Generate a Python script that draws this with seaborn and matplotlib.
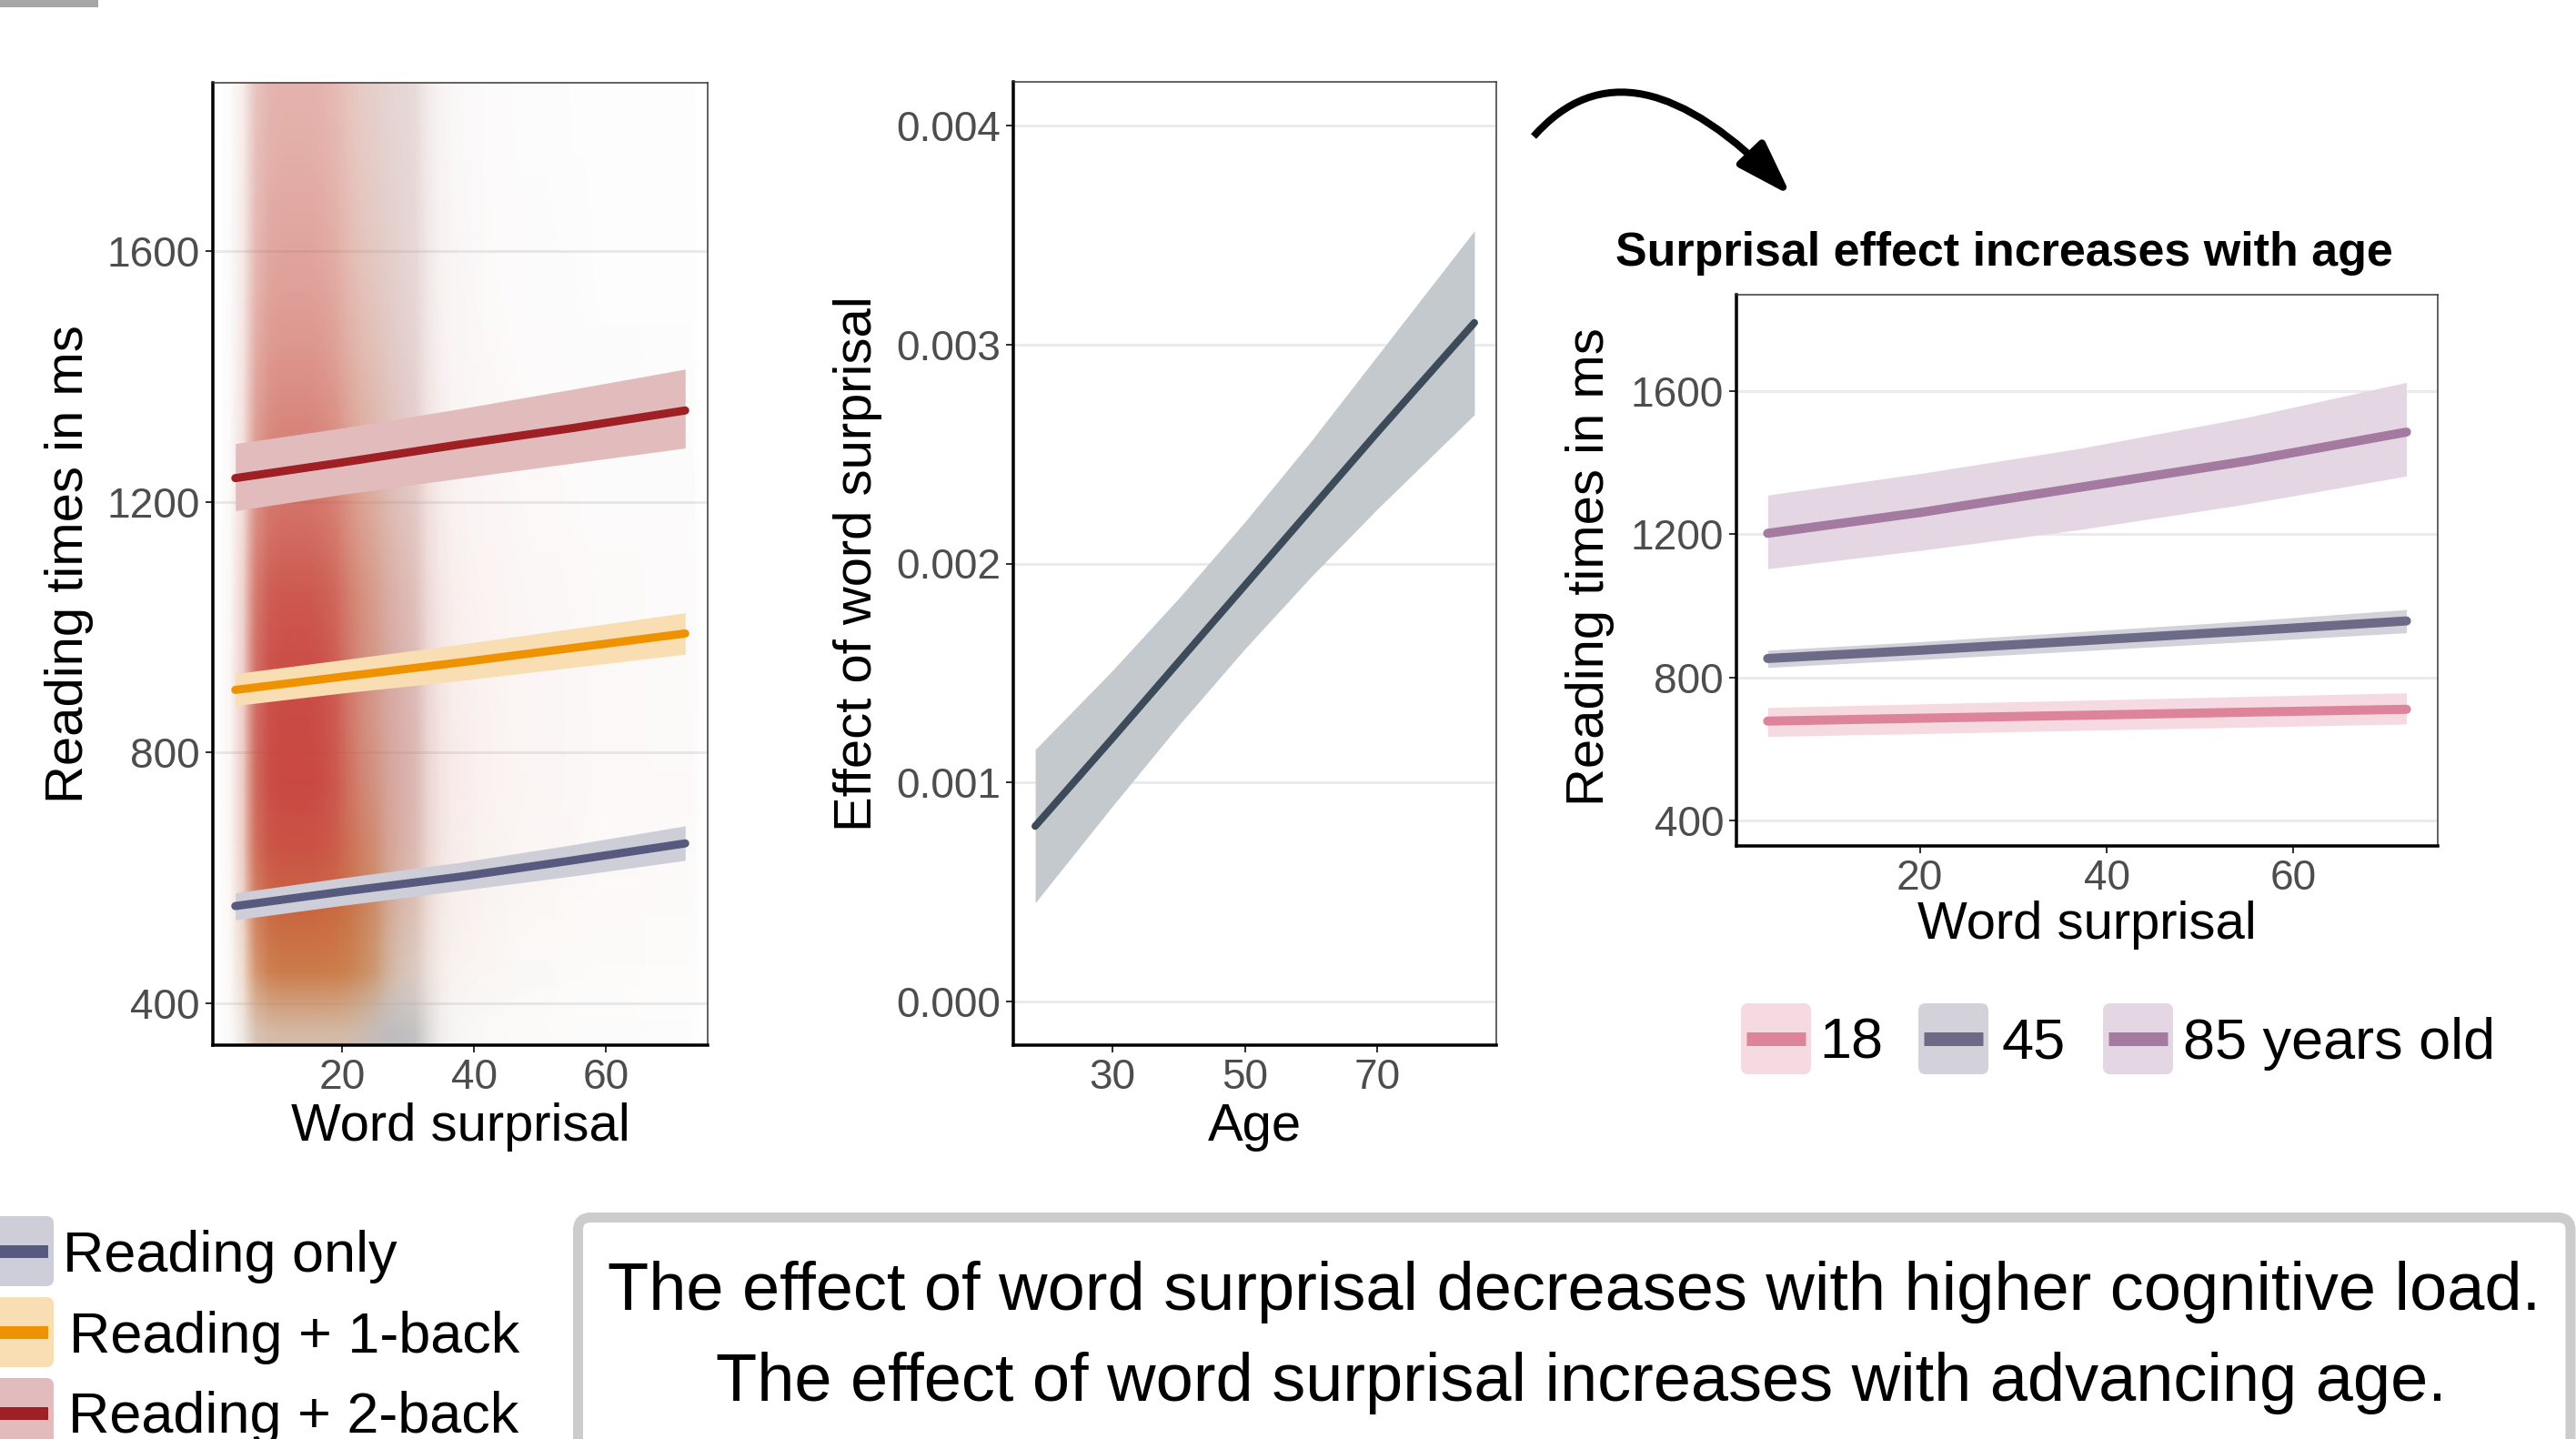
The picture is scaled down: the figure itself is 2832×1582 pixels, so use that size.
import numpy as np
import matplotlib
matplotlib.use("Agg")
import matplotlib.pyplot as plt
import seaborn as sns
from matplotlib.patches import FancyBboxPatch, Rectangle, FancyArrowPatch
from matplotlib.path import Path
from matplotlib.colors import to_rgb

# ---------------- data ----------------
# Panel A: reading times by cognitive load (model fits with CI)
load_levels = ["Reading only", "Reading + 1-back", "Reading + 2-back"]
load_surprisal = [3.8, 20, 38, 55, 72]
fit_only = [555, 578, 602, 628, 655]
lo_only = [533, 556, 580, 603, 628]
hi_only = [576, 600, 625, 653, 683]
fit_1back = [900, 921, 944, 967, 990]
lo_1back = [875, 895, 915, 936, 957]
hi_1back = [926, 948, 973, 998, 1023]
fit_2back = [1238, 1263, 1292, 1318, 1346]
lo_2back = [1186, 1212, 1238, 1262, 1286]
hi_2back = [1293, 1318, 1349, 1380, 1412]

# raw-data cloud, relative density
# (x bins 2 surprisal units wide, y bins 100 ms high)
cloud_x = [1, 3, 5, 7, 9, 11, 13, 15, 17, 19, 21, 23, 25, 27, 29, 31, 33, 35, 37,
           39, 41, 43, 45, 47, 49, 51, 53, 55, 57, 59, 61, 63, 65, 67, 69, 71, 73, 75]
cloud_y = [350, 450, 550, 650, 750, 850, 950, 1050, 1150, 1250, 1350, 1450, 1550, 1650, 1750, 1850]
dens_x_only = [0.0, 0.05, 0.2, 0.45, 0.45, 0.45, 0.45, 0.45, 0.45, 0.45, 0.55, 0.7, 0.85, 1.0, 1.0, 0.95, 0.5, 0.2, 0.1,
               0.07, 0.06, 0.05, 0.05, 0.04, 0.04, 0.04, 0.03, 0.03, 0.03, 0.03, 0.03, 0.03, 0.02, 0.02, 0.02, 0.02, 0.02, 0.0]
dens_x_1back = [0.0, 0.03, 0.2, 0.75, 0.95, 1.0, 1.0, 1.0, 1.0, 1.0, 1.0, 0.95, 0.85, 0.55, 0.35, 0.25, 0.12, 0.07, 0.05,
                0.05, 0.04, 0.04, 0.035, 0.03, 0.03, 0.03, 0.025, 0.025, 0.02, 0.02, 0.02, 0.02, 0.02, 0.015, 0.015, 0.015, 0.015, 0.0]
dens_x_2back = [0.0, 0.03, 0.2, 0.75, 0.95, 1.0, 1.0, 1.0, 0.95, 0.85, 0.65, 0.5, 0.42, 0.38, 0.35, 0.3, 0.15, 0.1, 0.07,
                0.06, 0.05, 0.045, 0.04, 0.035, 0.03, 0.03, 0.03, 0.025, 0.025, 0.02, 0.02, 0.02, 0.02, 0.02, 0.02, 0.02, 0.02, 0.0]
dens_y_only = [1.0, 0.45, 0.38, 0.35, 0.35, 0.35, 0.33, 0.3, 0.3, 0.3, 0.3, 0.3, 0.3, 0.3, 0.3, 0.3]
dens_y_1back = [0.5, 1.0, 1.0, 0.8, 0.6, 0.5, 0.5, 0.5, 0.42, 0.34, 0.28, 0.23, 0.19, 0.16, 0.14, 0.13]
dens_y_2back = [0.03, 0.2, 0.5, 0.85, 1.0, 1.0, 0.95, 0.85, 0.72, 0.62, 0.55, 0.48, 0.43, 0.4, 0.37, 0.35]

# Panel B: effect of surprisal by age
age = [18.4, 30, 40, 50, 60, 70, 84.6]
effect_fit = [0.00080, 0.00120, 0.00155, 0.00190, 0.00225, 0.00260, 0.00310]
effect_lo = [0.00045, 0.00089, 0.00126, 0.00161, 0.00194, 0.00225, 0.00268]
effect_hi = [0.00115, 0.00151, 0.00184, 0.00219, 0.00256, 0.00295, 0.00352]

# Panel C: reading times by age group
age_groups = ["18", "45", "85 years old"]
age_surprisal = [3.7, 20, 37, 55, 72.1]
fit_18 = [678, 686, 694, 703, 711]
lo_18 = [635, 643, 652, 661, 670]
hi_18 = [716, 726, 736, 747, 757]
fit_45 = [853, 876, 902, 930, 958]
lo_45 = [828, 850, 874, 900, 925]
hi_45 = [876, 900, 928, 958, 990]
fit_85 = [1203, 1261, 1331, 1405, 1486]
lo_85 = [1104, 1155, 1213, 1285, 1363]
hi_85 = [1310, 1370, 1440, 1527, 1625]

summary_lines = ["The effect of word surprisal decreases with higher cognitive load.",
                 "The effect of word surprisal increases with advancing age."]

# ---------------- style ----------------
sns.set_theme(style="white")
plt.rcParams["font.family"] = ["Liberation Sans", "DejaVu Sans"]

W, H, DPI = 2832, 1582, 72
fig = plt.figure(figsize=(W / DPI, H / DPI), dpi=DPI, facecolor="white")

col_only, col_1b, col_2b = "#575A7E", "#EE9200", "#9E1F24"
# drawing order of the point cloud: 1-back, 2-back, reading only
cloud_layers = [("#CD701E", 0.9, dens_x_1back, dens_y_1back),
                ("#C8201F", 0.85, dens_x_2back, dens_y_2back),
                ("#B9B9BD", 0.9, dens_x_only, dens_y_only)]
col_eff = "#3C4A59"
col_18, col_45, col_85 = "#DE849A", "#6D6A88", "#A47AA0"
BAND_A = 0.3


def band(c):
    r, g, b = to_rgb(c)
    return (r * BAND_A + 1 - BAND_A, g * BAND_A + 1 - BAND_A, b * BAND_A + 1 - BAND_A)


def px_axes(l, t, r, b):
    return fig.add_axes([l / W, 1 - b / H, (r - l) / W, (b - t) / H])


def style(ax):
    ax.set_facecolor("white")
    ax.grid(False)
    ax.yaxis.grid(True, color="#EBEBEB", lw=3)
    ax.set_axisbelow(True)
    for s in ["left", "bottom"]:
        ax.spines[s].set(color="black", lw=3.5, visible=True)
    for s in ["top", "right"]:
        ax.spines[s].set(color="#333333", lw=1.5, visible=True)
    ax.tick_params(axis="both", length=8, width=2, color="#333333",
                   labelsize=46, labelcolor="#4D4D4D", pad=6,
                   bottom=True, left=True)


def fit_band(ax, x, fit, lo, hi, c, lw):
    ax.fill_between(x, lo, hi, color=band(c), lw=0, zorder=2)
    sns.lineplot(x=x, y=fit, ax=ax, color=c, lw=lw, zorder=3)


# ---------------- panel A ----------------
axA = px_axes(234, 91, 778, 1149)
style(axA)
dx_half = (cloud_x[1] - cloud_x[0]) / 2
dy_half = (cloud_y[1] - cloud_y[0]) / 2
extent = (cloud_x[0] - dx_half, cloud_x[-1] + dx_half, cloud_y[0] - dy_half, cloud_y[-1] + dy_half)
for c, amax, dx, dy in cloud_layers:
    dens = np.outer(np.array(dy), np.array(dx))
    img = np.zeros(dens.shape + (4,))
    img[..., :3] = to_rgb(c)
    img[..., 3] = amax * dens
    axA.imshow(img, extent=extent, origin="lower", aspect="auto",
               interpolation="bilinear", zorder=1)
fit_band(axA, load_surprisal, fit_only, lo_only, hi_only, col_only, 9)
fit_band(axA, load_surprisal, fit_1back, lo_1back, hi_1back, col_1b, 9)
fit_band(axA, load_surprisal, fit_2back, lo_2back, hi_2back, col_2b, 9)
axA.set_xlim(0.39, 75.41)
axA.set_ylim(333, 1869)
axA.set_xticks([20, 40, 60])
axA.set_yticks([400, 800, 1200, 1600])
axA.set_xlabel("Word surprisal", fontsize=58, color="black")
axA.set_ylabel("Reading times in ms", fontsize=58, color="black")
axA.xaxis.set_label_coords(0.5, -0.085)
axA.yaxis.set_label_coords(-0.29, 0.5)
axA.xaxis.label.set_va("center")
axA.yaxis.label.set_va("center")

# ---------------- panel B ----------------
axB = px_axes(1114, 90, 1645, 1149)
style(axB)
fit_band(axB, age, effect_fit, effect_lo, effect_hi, col_eff, 8)
axB.set_xlim(15.1, 87.9)
axB.set_ylim(-0.0002, 0.0042)
axB.set_xticks([30, 50, 70])
axB.set_yticks([0, 0.001, 0.002, 0.003, 0.004])
axB.set_yticklabels(["0.000", "0.001", "0.002", "0.003", "0.004"])
axB.set_xlabel("Age", fontsize=58, color="black")
axB.set_ylabel("Effect of word surprisal", fontsize=58, color="black")
axB.xaxis.set_label_coords(0.5, -0.085)
axB.yaxis.set_label_coords(-0.322, 0.5)
axB.xaxis.label.set_va("center")
axB.yaxis.label.set_va("center")

# ---------------- panel C ----------------
axC = px_axes(1909, 324, 2680, 930)
style(axC)
fit_band(axC, age_surprisal, fit_18, lo_18, hi_18, col_18, 10)
fit_band(axC, age_surprisal, fit_45, lo_45, hi_45, col_45, 10)
fit_band(axC, age_surprisal, fit_85, lo_85, hi_85, col_85, 10)
axC.set_xlim(0.35, 75.45)
axC.set_ylim(329, 1870)
axC.set_xticks([20, 40, 60])
axC.set_yticks([400, 800, 1200, 1600])
axC.set_xlabel("Word surprisal", fontsize=58, color="black")
axC.set_ylabel("Reading times in ms", fontsize=58, color="black")
axC.xaxis.set_label_coords(0.4994, -0.1436)
axC.yaxis.set_label_coords(-0.209, 0.507)
axC.xaxis.label.set_va("center")
axC.yaxis.label.set_va("center")

# ---------------- overlay (legends, arrow, text box) ----------------
ov = fig.add_axes([0, 0, 1, 1])
ov.set_xlim(0, W)
ov.set_ylim(H, 0)
ov.axis("off")
ov.patch.set_alpha(0)

ov.add_patch(Rectangle((0, 0), 108, 8, color="#A6A6A6", lw=0))

ov.text(2203, 292, "Surprisal effect increases with age", ha="center", va="baseline",
        fontsize=52, fontweight="bold", color="black")

# curved arrow
S, E = (1686, 150), (1969, 215)
C = (1792, 30)
arrow_path = Path([S, C, E], [Path.MOVETO, Path.CURVE3, Path.CURVE3])
ov.add_patch(FancyArrowPatch(path=arrow_path, arrowstyle="-|>,head_length=0.85,head_width=0.28",
                             mutation_scale=60, lw=8, color="black", capstyle="butt"))

# legend: cognitive load
for lab, c, top, tx, base in zip(load_levels, [col_only, col_1b, col_2b],
                                 [1337, 1426, 1515], [69, 76, 75], [1398, 1487, 1575]):
    ov.add_patch(FancyBboxPatch((-18, top), 77, 77, boxstyle="round,pad=0,rounding_size=8",
                                fc=band(c), ec="none"))
    ov.plot([-12, 53], [top + 38.5, top + 38.5], color=c, lw=14, solid_capstyle="butt")
    ov.text(tx, base, lab, fontsize=63, ha="left", va="baseline", color="black")

# legend: age groups
for lab, c, x0, tx in zip(age_groups, [col_18, col_45, col_85],
                          [1914, 2109, 2312], [2000, 2200, 2400]):
    ov.add_patch(FancyBboxPatch((x0, 1103), 77, 78, boxstyle="round,pad=0,rounding_size=8",
                                fc=band(c), ec="none"))
    ov.plot([x0 + 6, x0 + 71], [1142, 1142], color=c, lw=15, solid_capstyle="butt")
    ov.text(tx, 1164, lab, fontsize=63, ha="left", va="baseline", color="black")

# summary box
ov.add_patch(FancyBboxPatch((635.5, 1338.5), 2826 - 635.5, 500, boxstyle="round,pad=0,rounding_size=14",
                            fc="white", ec="#CCCCCC", lw=11))
ov.text(1731, 1440, summary_lines[0], fontsize=74, ha="center", va="baseline", color="black")
ov.text(1738, 1540, summary_lines[1], fontsize=74, ha="center", va="baseline", color="black")

fig.savefig("out.png", dpi=DPI, facecolor="white")
